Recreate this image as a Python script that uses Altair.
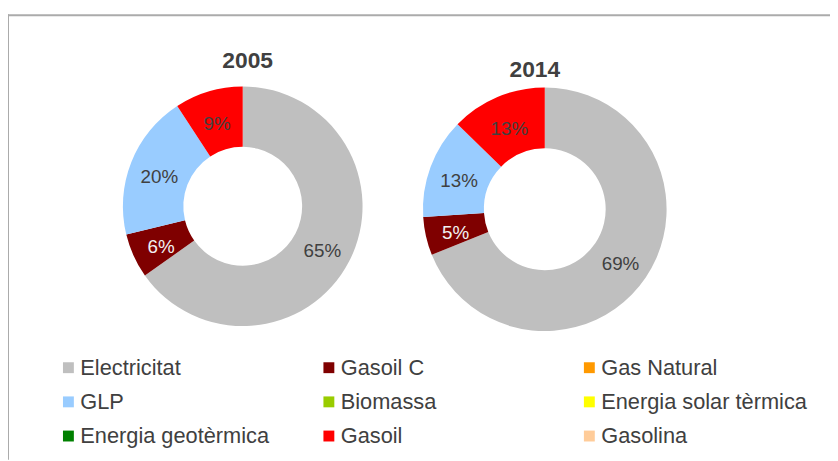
import altair as alt
import pandas as pd

categories = ["Electricitat", "Gasoil C", "Gas Natural", "GLP", "Biomassa",
              "Energia solar tèrmica", "Energia geotèrmica", "Gasoil", "Gasolina"]
colors = ["#BFBFBF", "#7F0000", "#FF9900", "#99CCFF", "#99CC00",
          "#FFFF00", "#008000", "#FF0000", "#FFCC99"]
years = ["2005", "2014"]
values_2005 = [65.2, 6.0, 0, 19.6, 0, 0, 0, 9.2, 0]
values_2014 = [68.9, 5.1, 0, 13.3, 0, 0, 0, 12.7, 0]

FONT = "Liberation Sans"
TXT = "#404040"


def frame(vals):
    df = pd.DataFrame({"cat": categories, "value": vals, "idx": list(range(len(categories)))})
    return df


color_scale = alt.Scale(domain=categories, range=colors)
legend = alt.Legend(
    title=None, orient="none", legendX=50, legendY=350, columns=3, direction="horizontal",
    symbolType="square", symbolSize=121, symbolStrokeWidth=0,
    labelFontSize=22, labelFont=FONT, labelColor=TXT, labelOffset=1,
    columnPadding=32, rowPadding=12.5, gridAlign="all", labelLimit=400, padding=0,
)


def donut(vals, cx, cy, outer, inner, year, tx, ty, show_legend):
    base = alt.Chart(frame(vals)).transform_filter("datum.value > 0")
    arc = base.mark_arc(outerRadius=outer, innerRadius=inner).encode(
        theta=alt.Theta("value:Q", stack=True, scale=alt.Scale(domain=[0, 100])),
        order=alt.Order("idx:Q"),
        color=alt.Color("cat:N", scale=color_scale, legend=legend if show_legend else None),
        x=alt.value(cx), y=alt.value(cy),
    )
    txt = base.transform_calculate(
        label="round(datum.value) + '%'"
    ).mark_text(radius=(outer + inner) / 2, font=FONT, fontSize=19, baseline="middle",
                align="center", dy=4).encode(
        theta=alt.Theta("value:Q", stack=True, scale=alt.Scale(domain=[0, 100])),
        order=alt.Order("idx:Q"),
        text="label:N",
        color=alt.condition("datum.cat == 'Gasoil C'", alt.value("#F2F2F2"), alt.value(TXT)),
        x=alt.value(cx), y=alt.value(cy),
    )
    title = alt.Chart(pd.DataFrame({"year": [year]})).mark_text(
        font=FONT, fontSize=23, fontWeight="bold", color=TXT, align="center", baseline="alphabetic"
    ).encode(text="year:N", x=alt.value(tx), y=alt.value(ty))
    return [arc, txt, title]


one = pd.DataFrame({"a": [0]})
top_line = alt.Chart(one).mark_rule(color="#ABABAB", strokeWidth=2).encode(
    x=alt.value(-1), x2=alt.value(831), y=alt.value(5))
left_line = alt.Chart(one).mark_rule(color="#ABABAB", strokeWidth=2).encode(
    x=alt.value(0), y=alt.value(4), y2=alt.value(454))

layers = [top_line, left_line]
layers += donut(values_2005, 237, 198, 121, 60, years[0], 242, 58, True)
layers += donut(values_2014, 542, 201, 123, 61.5, years[1], 532, 67, False)

chart = alt.layer(*layers).properties(
    width=830, height=453, padding=0, autosize=alt.AutoSizeParams(type="none"),
    background="white",
).resolve_scale(theta="independent").configure_view(stroke=None)

chart.save("out.html", embed_options={"renderer": "svg", "actions": False})
